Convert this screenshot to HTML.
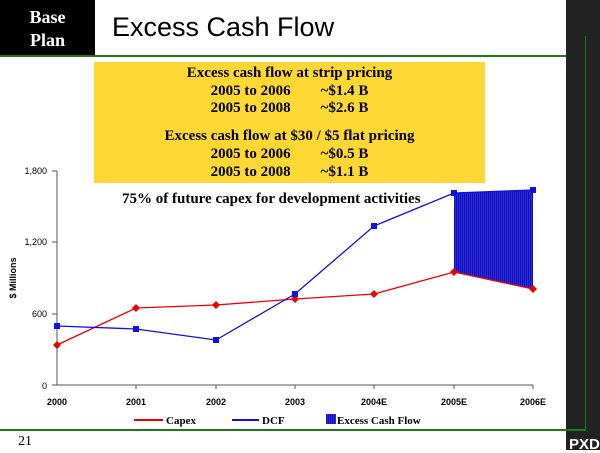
<!DOCTYPE html>
<html><head><style>
body{margin:0;width:600px;height:450px;overflow:hidden;background:#fff;position:relative;font-family:"Liberation Sans",sans-serif}
div{position:absolute}
.ser{font-family:"Liberation Serif",serif;font-weight:bold}
</style></head><body>
<div style="left:0;top:0;width:95px;height:56px;background:#000"></div>
<div class="ser" style="left:0;top:6px;width:95px;text-align:center;color:#fff;font-size:18px;line-height:23px">Base<br>Plan</div>
<div style="left:112px;top:12px;font-size:27px;color:#000">Excess Cash Flow</div>
<div style="left:0;top:55px;width:586px;height:2px;background:#1a7a1a"></div>
<div style="left:566px;top:0;width:34px;height:450px;background:#222"></div>
<div style="left:585px;top:36px;width:1px;height:395px;background:#1a7a1a"></div>
<div style="left:0;top:429px;width:586px;height:2px;background:#1a7a1a"></div>
<div style="left:94px;top:62px;width:391px;height:121px;background:#fdd835"></div>
<div class="ser" style="left:94px;top:65px;width:391px;text-align:center;font-size:15px;line-height:17.5px">Excess cash flow at strip pricing<br>2005 to 2006&nbsp;&nbsp;&nbsp;&nbsp;&nbsp;&nbsp;&nbsp;&nbsp;~$1.4 B<br>2005 to 2008&nbsp;&nbsp;&nbsp;&nbsp;&nbsp;&nbsp;&nbsp;&nbsp;~$2.6 B</div>
<div class="ser" style="left:94px;top:127px;width:391px;text-align:center;font-size:15px;line-height:18px">Excess cash flow at $30 / $5 flat pricing<br>2005 to 2006&nbsp;&nbsp;&nbsp;&nbsp;&nbsp;&nbsp;&nbsp;&nbsp;~$0.5 B<br>2005 to 2008&nbsp;&nbsp;&nbsp;&nbsp;&nbsp;&nbsp;&nbsp;&nbsp;~$1.1 B</div>
<div class="ser" style="left:122px;top:191px;font-size:15px">75% of future capex for development activities</div>
<svg style="position:absolute;left:0;top:0" width="600" height="450">
<defs><pattern id="h" width="2" height="4" patternUnits="userSpaceOnUse"><rect width="2" height="4" fill="#2a2ae8"/><rect width="0.6" height="4" fill="#000080"/></pattern></defs>
<g font-family="Liberation Sans" font-size="9" text-anchor="end">
<text x="47" y="174">1,800</text><text x="47" y="245">1,200</text><text x="47" y="317">600</text><text x="47" y="389">0</text></g>
<text transform="translate(16,278) rotate(-90)" font-family="Liberation Sans" font-size="9" font-weight="bold" text-anchor="middle">$ Millions</text>
<path d="M57,171V385H533M52,171H57M52,242H57M52,314H57M52,385H57" stroke="#555" fill="none"/>
<g stroke="#555"><line x1="136" y1="385" x2="136" y2="389"/><line x1="216" y1="385" x2="216" y2="389"/><line x1="295" y1="385" x2="295" y2="389"/><line x1="374" y1="385" x2="374" y2="389"/><line x1="454" y1="385" x2="454" y2="389"/><line x1="533" y1="385" x2="533" y2="389"/></g>
<g font-family="Liberation Sans" font-size="9" font-weight="bold" text-anchor="middle">
<text x="57" y="405">2000</text><text x="136" y="405">2001</text><text x="216" y="405">2002</text><text x="295" y="405">2003</text><text x="374" y="405">2004E</text><text x="454" y="405">2005E</text><text x="533" y="405">2006E</text></g>
<polygon points="454,193 533,190 533,289 454,272" fill="url(#h)"/>
<polyline points="57,345 136,308 216,305 295,299 374,294 454,272 533,289" fill="none" stroke="#e00" stroke-width="1.3"/>
<polyline points="57,326 136,329 216,340 295,294 374,226 454,193 533,190" fill="none" stroke="#1010e0" stroke-width="1.3"/>
<g fill="#e00"><path d="M57,341l4,4-4,4-4-4z"/><path d="M136,304l4,4-4,4-4-4z"/><path d="M216,301l4,4-4,4-4-4z"/><path d="M295,295l4,4-4,4-4-4z"/><path d="M374,290l4,4-4,4-4-4z"/><path d="M454,268l4,4-4,4-4-4z"/><path d="M533,285l4,4-4,4-4-4z"/></g>
<g fill="#1010e0"><rect x="54" y="323" width="6" height="6"/><rect x="133" y="326" width="6" height="6"/><rect x="213" y="337" width="6" height="6"/><rect x="292" y="291" width="6" height="6"/><rect x="371" y="223" width="6" height="6"/><rect x="451" y="190" width="6" height="6"/><rect x="530" y="187" width="6" height="6"/></g>
<line x1="134" y1="420" x2="163" y2="420" stroke="#e00" stroke-width="2"/>
<line x1="232" y1="420" x2="259" y2="420" stroke="#1010e0" stroke-width="2"/>
<rect x="326" y="414" width="10" height="10" fill="url(#h)"/>
<g font-family="Liberation Serif" font-size="11" font-weight="bold"><text x="166" y="424">Capex</text><text x="262" y="424">DCF</text><text x="337" y="424">Excess Cash Flow</text></g>
</svg>
<div class="ser" style="left:18px;top:434px;font-size:14px;font-weight:normal">21</div>
<div style="left:569px;top:436px;color:#fff;font-weight:bold;font-size:15px">PXD</div>
</body></html>
